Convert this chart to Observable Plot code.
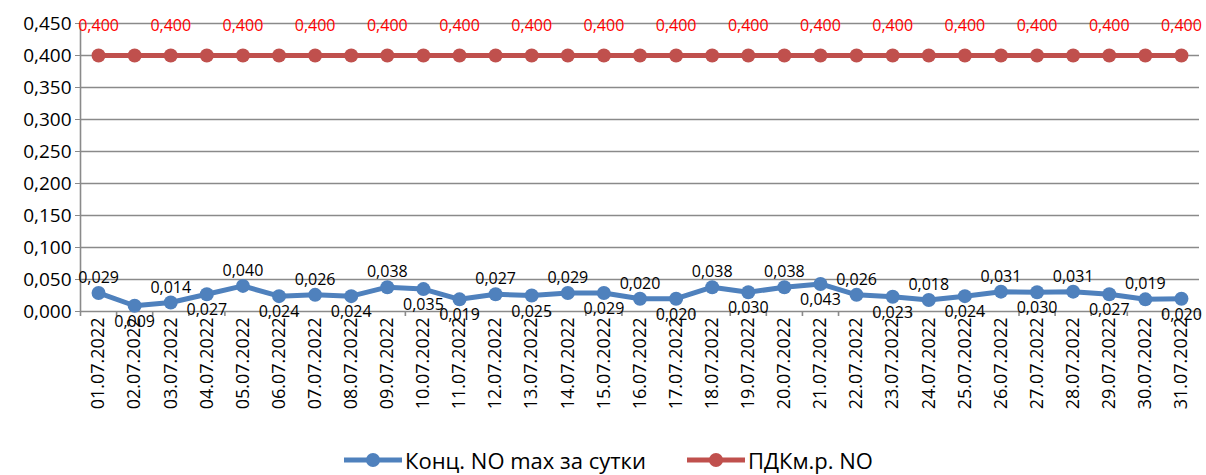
<!DOCTYPE html>
<html><head><meta charset="utf-8">
<script src="https://cdn.jsdelivr.net/npm/d3@7"></script>
<script src="https://cdn.jsdelivr.net/npm/@observablehq/plot@0.6"></script>
<style>
html,body{margin:0;padding:0;background:#fff;}
body{width:1206px;height:475px;overflow:hidden;font-family:"Open Sans",sans-serif;}
#legend{position:absolute;top:445px;left:343px;display:flex;align-items:center;font-size:22px;color:#000;}
#legend .item{display:flex;align-items:center;}
#legend .item svg{margin-right:2px;}
</style></head>
<body>
<div id="chart"></div>
<div id="legend"></div>
<script>
const dates = ["01.07.2022","02.07.2022","03.07.2022","04.07.2022","05.07.2022","06.07.2022","07.07.2022","08.07.2022","09.07.2022","10.07.2022","11.07.2022","12.07.2022","13.07.2022","14.07.2022","15.07.2022","16.07.2022","17.07.2022","18.07.2022","19.07.2022","20.07.2022","21.07.2022","22.07.2022","23.07.2022","24.07.2022","25.07.2022","26.07.2022","27.07.2022","28.07.2022","29.07.2022","30.07.2022","31.07.2022"];
const noValues = [0.029,0.009,0.014,0.027,0.040,0.024,0.026,0.024,0.038,0.035,0.019,0.027,0.025,0.029,0.029,0.020,0.020,0.038,0.030,0.038,0.043,0.026,0.023,0.018,0.024,0.031,0.030,0.031,0.027,0.019,0.020];
const pdkValues = [0.4,0.4,0.4,0.4,0.4,0.4,0.4,0.4,0.4,0.4,0.4,0.4,0.4,0.4,0.4,0.4,0.4,0.4,0.4,0.4,0.4,0.4,0.4,0.4,0.4,0.4,0.4,0.4,0.4,0.4,0.4];
const yTicks = [0,0.05,0.1,0.15,0.2,0.25,0.3,0.35,0.4,0.45];
const seriesNames = ["Конц. NO max за сутки","ПДКм.р. NO"];

const BLUE = "#4F81BD", RED = "#C0504D", GRID = "#8a8a8a";
const fmt = v => d3.format(".3f")(v).replace(".", ",");
const rowsNO = dates.map((d,i)=>({x:i+1, v:noValues[i], i}));
const rowsPDK = dates.map((d,i)=>({x:i+1, v:pdkValues[i], i}));
const above = i => i < 9 ? i % 2 === 0 : (i >= 11 && i % 2 === 1);
const idx = dates.map((d,i)=>i+1);
const bounds = d3.range(0.5, dates.length + 1, 1);

const chart = Plot.plot({
  width:1206, height:430,
  marginLeft:80, marginRight:7, marginTop:23, marginBottom:119,
  style:{fontFamily:"Open Sans, sans-serif", background:"#fff"},
  x:{type:"linear", domain:[0.5, dates.length + 0.5], label:null},
  y:{domain:[0,0.45], label:null},
  marks:[
    Plot.ruleY(yTicks,{stroke:GRID, strokeWidth:1.6}),
    Plot.ruleX([0.5],{stroke:GRID, strokeWidth:1.6}),
    Plot.axisY({ticks:yTicks, tickFormat:fmt, tickSize:5, tickPadding:4, fontSize:19, stroke:GRID, fill:"#000", label:null}),
    Plot.axisX({ticks:bounds, tickSize:5, tickFormat:()=>"", stroke:GRID, strokeWidth:1.6, label:null}),
    Plot.axisX({ticks:idx, tickSize:0, tickPadding:6, tickRotate:-90, tickFormat:i=>dates[i-1], fontSize:18, fill:"#000", label:null}),
    Plot.line(rowsPDK,{x:"x", y:"v", stroke:RED, strokeWidth:5}),
    Plot.dot(rowsPDK,{x:"x", y:"v", r:7, fill:RED, stroke:null}),
    Plot.text(rowsPDK.filter(d=>d.i % 2 === 0),{x:"x", y:"v", text:d=>fmt(d.v), dy:-30, fill:"#ff0000", fontSize:16}),
    Plot.line(rowsNO,{x:"x", y:"v", stroke:BLUE, strokeWidth:5}),
    Plot.dot(rowsNO,{x:"x", y:"v", r:7, fill:BLUE, stroke:null}),
    Plot.text(rowsNO.filter(d=>above(d.i)),{x:"x", y:"v", text:d=>fmt(d.v), dy:-15, fill:"#000", fontSize:16}),
    Plot.text(rowsNO.filter(d=>!above(d.i)),{x:"x", y:"v", text:d=>fmt(d.v), dy:16, fill:"#000", fontSize:16})
  ]
});
document.getElementById("chart").appendChild(chart);

const legend = document.getElementById("legend");
[[seriesNames[0], BLUE, true],[seriesNames[1], RED, false]].forEach(([name,color,gap])=>{
  const item = document.createElement("div");
  item.className = "item";
  item.style.marginRight = gap ? "40px" : "0";
  item.innerHTML = `<svg width="60" height="20"><line x1="1" y1="10" x2="59" y2="10" stroke="${color}" stroke-width="5"/><circle cx="30" cy="10" r="7" fill="${color}"/></svg><span>${name}</span>`;
  legend.appendChild(item);
});
</script>
</body></html>
